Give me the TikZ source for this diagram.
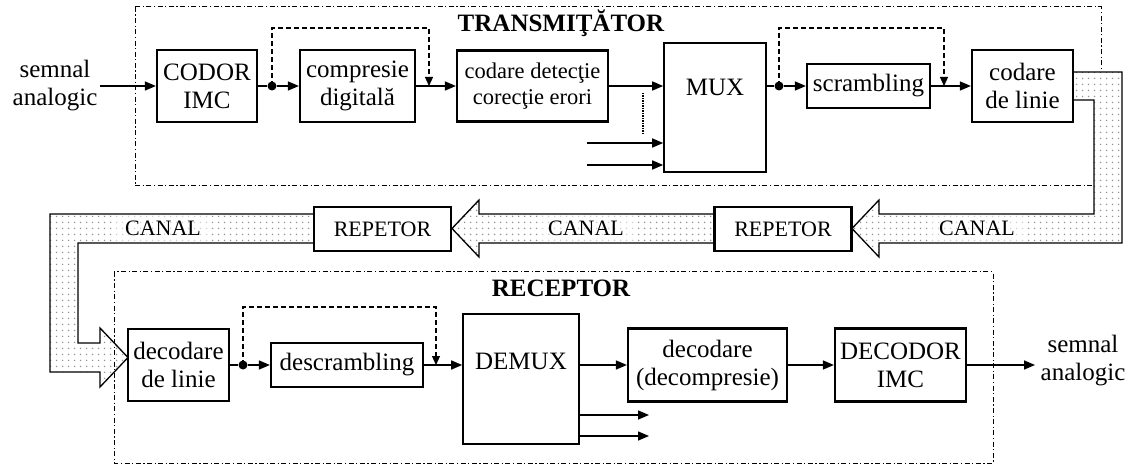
\documentclass[tikz,border=0pt]{standalone}
\usepackage{fontspec}
\setmainfont{Liberation Serif}
\usetikzlibrary{arrows.meta,patterns}
\pgfdeclarepatternformonly{sparsedots}{\pgfqpoint{0pt}{0pt}}{\pgfqpoint{6pt}{6pt}}{\pgfqpoint{6pt}{6pt}}{\pgfpathcircle{\pgfqpoint{3pt}{3pt}}{0.95pt}\pgfusepath{fill}}
\begin{document}
\begin{tikzpicture}[x=1pt,y=-1pt,
  txt/.style={font=\fontsize{25}{28}\selectfont, align=center, inner sep=0pt},
  box/.style={txt, draw, line width=2.2pt, fill=white},
  thinbox/.style={draw, line width=1.6pt, fill=white, inner sep=0pt},
  arr/.style={line width=1.5pt, -{Triangle[length=11pt,width=9pt]}},
  ln/.style={line width=1.5pt},
  dsh/.style={line width=1.2pt, dash pattern=on 5pt off 3pt, -{Triangle[length=9pt,width=8pt]}},
  dotline/.style={line width=2.4pt, dash pattern=on 1.2pt off 1.3pt},
  frm/.style={line width=1pt, dash pattern=on 5pt off 2.5pt on 1.2pt off 2.5pt},
  dotn/.style={circle, fill, inner sep=0pt, minimum size=9pt},
  band/.style={line width=1.3pt, preaction={fill=white}, pattern=sparsedots, pattern color=gray!85},
  canal/.style={font=\fontsize{22}{26}\selectfont, fill=white, fill opacity=.55, text opacity=1, inner xsep=10pt, inner ysep=0pt, minimum height=27pt},
  rep/.style={draw, line width=2.2pt, fill=white, font=\fontsize{22}{26}\selectfont, minimum width=137pt, minimum height=44pt, inner sep=0pt},
  ttl/.style={font=\fontsize{25}{28}\selectfont\bfseries, inner sep=0pt}
]
\useasboundingbox (0,0) rectangle (1128,465);

% transmitter frame
\draw[frm] (135,7) rectangle (1101,186);
\node[ttl, anchor=base] (ttx) at (561,32) {TRANSMIŢĂTOR};

% channel band
\draw[band] (1073,72) -- (1122,72) -- (1122,243) -- (879,243) -- (879,257) -- (852,228.5) -- (879,200) -- (879,214) -- (1094,214) -- (1094,100) -- (1073,100) -- cycle;
\draw[band] (720,214) -- (479,214) -- (479,200) -- (452,228.5) -- (479,257) -- (479,243) -- (720,243);
\draw[band] (320,214) -- (50,214) -- (50,372) -- (100,372) -- (100,387) -- (128,357.5) -- (100,328) -- (100,343) -- (78,343) -- (78,243) -- (320,243);
\node[rep] (rep2) at (783,229) {REPETOR};
\node[rep] (rep1) at (382.5,229) {REPETOR};
\node[canal] (c1) at (977,228.5) {CANAL};
\node[canal] (c2) at (586,228.5) {CANAL};
\node[canal] (c3) at (163,228.5) {CANAL};

% receptor frame
\draw[frm] (114,272) rectangle (993,463);
\node[ttl, anchor=base] (rtx) at (561,297) {RECEPTOR};

% transmitter blocks
\node[txt] (inT) at (55,86) {semnal\\analogic};
\coordinate (a0) at (100,86);
\node[box, minimum width=100pt, minimum height=72pt] (codor) at (207,86) {CODOR\\IMC};
\node[dotn] (d1) at (272,86) {};
\node[box, minimum width=115pt, minimum height=72pt] (compr) at (357.5,86) {compresie\\digitală};
\coordinate (f1) at (429,86);
\node[box, font=\fontsize{22.5}{26}\selectfont, minimum width=151pt, minimum height=71pt] (cdet) at (532.5,86) {codare detecţie\\corecţie erori};
\node[thinbox, minimum width=102pt, minimum height=129pt] (mux) at (715,107.5) {};
\node[txt] (muxt) at (715,87) {MUX};
\coordinate (i1) at (587,143);
\coordinate (i2) at (587,165);
\coordinate (v1) at (643,93);
\coordinate (v2) at (643,135);
\node[dotn] (d2) at (779,86) {};
\node[box, minimum width=123pt, minimum height=44pt] (scr) at (868.5,86) {scrambling};
\coordinate (f2) at (944,86);
\node[box, minimum width=101pt, minimum height=72pt] (clin) at (1022.5,86) {codare\\de linie};

% receptor blocks
\node[box, minimum width=101pt, minimum height=72pt] (dlin) at (178.5,365) {decodare\\de linie};
\node[dotn] (d3) at (243,365) {};
\node[box, minimum width=152pt, minimum height=44pt] (dscr) at (347,365) {descrambling};
\coordinate (f3) at (436,365);
\node[thinbox, minimum width=116pt, minimum height=130pt] (demux) at (521,379) {};
\node[txt] (demuxt) at (521,361) {DEMUX};
\node[box, minimum width=159pt, minimum height=73pt] (ddec) at (707.5,365) {decodare\\(decompresie)};
\node[box, minimum width=131pt, minimum height=73pt] (decodor) at (900.5,365) {DECODOR\\IMC};
\coordinate (out) at (1035,365);
\node[txt] (outT) at (1083,361) {semnal\\analogic};
\coordinate (o1) at (649,415);
\coordinate (o2) at (649,436);

% transmitter connectors
\draw[arr] (a0) -- (codor);
\draw[ln] (codor) -- (d1);
\draw[arr] (d1) -- (compr);
\draw[dsh] (d1.center) -- ++(0,-58) -| (f1);
\draw[arr] (compr) -- (cdet);
\draw[arr] (cdet.east) -- (cdet.east -| mux.west);
\draw[arr] (i1) -- (i1 -| mux.west);
\draw[arr] (i2) -- (i2 -| mux.west);
\draw[dotline] (v1) -- (v2);
\draw[ln] (mux.east |- d2) -- (d2);
\draw[arr] (d2) -- (scr);
\draw[dsh] (d2.center) -- ++(0,-58) -| (f2);
\draw[arr] (scr) -- (clin);

% receptor connectors
\draw[ln] (dlin) -- (d3);
\draw[arr] (d3) -- (dscr);
\draw[dsh] (d3.center) -- ++(0,-58) -| (f3);
\draw[arr] (dscr.east) -- (dscr.east -| demux.west);
\draw[arr] (ddec.west -| demux.east) -- (ddec.west);
\draw[arr] (ddec) -- (decodor);
\draw[arr] (decodor) -- (out);
\draw[arr] (o1 -| demux.east) -- (o1);
\draw[arr] (o2 -| demux.east) -- (o2);
\end{tikzpicture}
\end{document}
